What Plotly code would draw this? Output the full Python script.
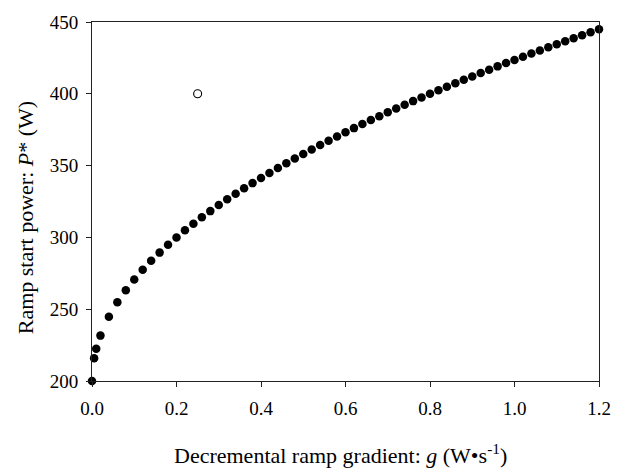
import plotly.graph_objects as go

# Decremental ramp gradient g (W/s)
g_values = [0.0, 0.005, 0.01, 0.02, 0.04, 0.06, 0.08, 0.10, 0.12, 0.14, 0.16, 0.18,
            0.20, 0.22, 0.24, 0.26, 0.28, 0.30, 0.32, 0.34, 0.36, 0.38, 0.40,
            0.42, 0.44, 0.46, 0.48, 0.50, 0.52, 0.54, 0.56, 0.58, 0.60,
            0.62, 0.64, 0.66, 0.68, 0.70, 0.72, 0.74, 0.76, 0.78, 0.80,
            0.82, 0.84, 0.86, 0.88, 0.90, 0.92, 0.94, 0.96, 0.98, 1.00,
            1.02, 1.04, 1.06, 1.08, 1.10, 1.12, 1.14, 1.16, 1.18, 1.20]
# Ramp start power P* (W)
p_values = [200.0, 215.8, 222.4, 231.6, 244.7, 254.8, 263.2, 270.7, 277.5, 283.7, 289.4, 294.9,
            300.0, 304.9, 309.5, 314.0, 318.3, 322.5, 326.5, 330.4, 334.2, 337.8, 341.4,
            344.9, 348.3, 351.7, 354.9, 358.1, 361.2, 364.3, 367.3, 370.3, 373.2,
            376.1, 378.9, 381.7, 384.4, 387.1, 389.7, 392.3, 394.9, 397.5, 400.0,
            402.5, 404.9, 407.4, 409.8, 412.1, 414.5, 416.8, 419.1, 421.4, 423.6,
            425.8, 428.0, 430.2, 432.4, 434.5, 436.6, 438.7, 440.8, 442.9, 444.9]
# Single open-circle point
open_g = [0.25]
open_p = [400]

x_ticks = [0.0, 0.2, 0.4, 0.6, 0.8, 1.0, 1.2]
x_tick_labels = ["0.0", "0.2", "0.4", "0.6", "0.8", "1.0", "1.2"]
y_ticks = [200, 250, 300, 350, 400, 450]

x_title = "Decremental ramp gradient: <i>g</i> (W•s<sup>-1</sup>)"
y_title = "Ramp start power: <i>P</i>* (W)"

font_family = "Liberation Serif, Times New Roman, serif"

fig = go.Figure()
fig.add_trace(go.Scatter(
    x=g_values, y=p_values, mode="markers",
    marker=dict(symbol="circle", size=8.5, color="black", line=dict(width=0)),
    cliponaxis=False, showlegend=False))
fig.add_trace(go.Scatter(
    x=open_g, y=open_p, mode="markers",
    marker=dict(symbol="circle-open", size=8, color="black", line=dict(width=1.1)),
    cliponaxis=False, showlegend=False))

axis_common = dict(
    showgrid=False, zeroline=False, showline=True, linecolor="#222", linewidth=1,
    mirror=True, ticks="outside", ticklen=5, tickcolor="#222", tickwidth=1,
    tickfont=dict(family=font_family, size=19, color="black"),
)

fig.update_layout(
    width=623, height=468,
    margin=dict(l=92, r=21, t=16, b=87),
    paper_bgcolor="white", plot_bgcolor="white",
    font=dict(family=font_family, color="black"),
    xaxis=dict(range=[0, 1.2], tickvals=x_ticks, ticktext=x_tick_labels,
               ticklabelstandoff=5, **axis_common),
    yaxis=dict(range=[200, 450], tickvals=y_ticks,
               ticklabelstandoff=4, **axis_common),
    annotations=[
        dict(text=x_title, xref="paper", yref="paper", x=0.49, y=-0.203,
             xanchor="center", yanchor="middle", showarrow=False,
             font=dict(family=font_family, size=22, color="black")),
        dict(text=y_title, xref="paper", yref="paper", x=-0.131, y=0.455,
             xanchor="center", yanchor="middle", showarrow=False, textangle=-90,
             font=dict(family=font_family, size=22, color="black")),
    ],
)

fig.write_html("out.html", config={"displayModeBar": False},
               post_script="document.body.style.margin='0';")
